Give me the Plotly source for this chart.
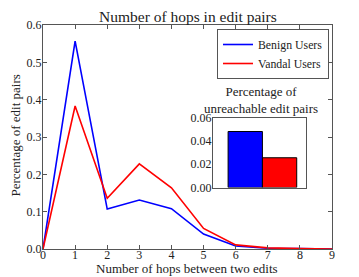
import plotly.graph_objects as go

hops = [0, 1, 2, 3, 4, 5, 6, 7, 8, 9]
benign = [0.0, 0.557, 0.107, 0.131, 0.108, 0.040, 0.008, 0.002, 0.001, 0.0]
vandal = [0.0, 0.383, 0.136, 0.228, 0.164, 0.055, 0.011, 0.003, 0.001, 0.0]
unreach_groups = [0, 1]
unreach_vals = [0.048, 0.0255]
unreach_colors = ["#0000ff", "#ff0000"]

FONT = "Liberation Serif, Times New Roman, serif"
AX = "#555555"
TXT = "#222222"

fig = go.Figure()
fig.add_trace(go.Scatter(x=hops, y=benign, mode="lines", name="Benign Users",
                         line=dict(color="#0000ff", width=1.6)))
fig.add_trace(go.Scatter(x=hops, y=vandal, mode="lines", name="Vandal Users",
                         line=dict(color="#ff0000", width=1.6)))
fig.add_trace(go.Bar(x=unreach_groups, y=unreach_vals, width=1.0,
                     marker=dict(color=unreach_colors, line=dict(color="black", width=1)),
                     xaxis="x2", yaxis="y2", showlegend=False))

axis_common = dict(showline=True, linecolor=AX, linewidth=1, mirror="ticks",
                   ticks="inside", ticklen=4, tickcolor=AX, showgrid=False,
                   zeroline=False, automargin=False,
                   tickfont=dict(family=FONT, size=12, color=TXT))

L, R, T, B = 43, 27, 25, 28
W, H = 359, 277
PW, PH = W - L - R, H - T - B

def px_to_xpaper(px):
    return (px - L) / PW

def px_to_ypaper(py):
    return (H - B - py) / PH

fig.update_layout(
    width=W, height=H,
    margin=dict(l=L, r=R, t=T, b=B),
    paper_bgcolor="white", plot_bgcolor="white",
    font=dict(family=FONT, color=TXT),
    xaxis=dict(range=[0, 9], tickvals=hops, domain=[0, 1], ticklabelstandoff=-5, **axis_common),
    yaxis=dict(range=[0, 0.6], dtick=0.1, tickformat=".1f", domain=[0, 1],
               ticklabelstandoff=-2, **axis_common),
    xaxis2=dict(domain=[px_to_xpaper(213), px_to_xpaper(306)], anchor="y2",
                range=[-0.94, 1.77], showticklabels=False, showline=True,
                linecolor=AX, mirror=True, ticks="", showgrid=False, zeroline=False,
                automargin=False),
    yaxis2=dict(domain=[px_to_ypaper(187.5), px_to_ypaper(117.5)], anchor="x2",
                range=[0, 0.06], tickvals=[0, 0.02, 0.04, 0.06], tickformat=".2f",
                showline=True, linecolor=AX, mirror=True, ticks="", showgrid=False,
                zeroline=False, automargin=False, ticklabelstandoff=-2,
                tickfont=dict(family=FONT, size=12, color=TXT)),
    legend=dict(x=px_to_xpaper(329), y=px_to_ypaper(29), xanchor="right", yanchor="top",
                bgcolor="white", bordercolor=AX, borderwidth=1,
                font=dict(family=FONT, size=11.8, color=TXT),
                itemwidth=30, tracegroupgap=0),
    showlegend=True,
    annotations=[
        dict(text="Number of hops in edit pairs", xref="paper", yref="paper",
             x=0.5, y=px_to_ypaper(17), xanchor="center", yanchor="middle",
             showarrow=False, font=dict(family=FONT, size=15.5, color=TXT)),
        dict(text="Number of hops between two edits", xref="paper", yref="paper",
             x=px_to_xpaper(187), y=px_to_ypaper(268.5), xanchor="center", yanchor="middle",
             showarrow=False, font=dict(family=FONT, size=13, color=TXT)),
        dict(text="Percentage of edit pairs", xref="paper", yref="paper",
             x=px_to_xpaper(14.5), y=px_to_ypaper(136), xanchor="center", yanchor="middle",
             textangle=-90, showarrow=False, font=dict(family=FONT, size=13, color=TXT)),
        dict(text="Percentage of<br>unreachable edit pairs",
             xref="paper", yref="paper", x=px_to_xpaper(261), y=px_to_ypaper(99.5),
             xanchor="center", yanchor="middle", showarrow=False,
             font=dict(family=FONT, size=13, color=TXT)),
    ],
)

fig.write_html("out.html", config={"displayModeBar": False},
               post_script="document.body.style.margin='0';document.body.style.padding='0';document.body.style.overflow='hidden';")
